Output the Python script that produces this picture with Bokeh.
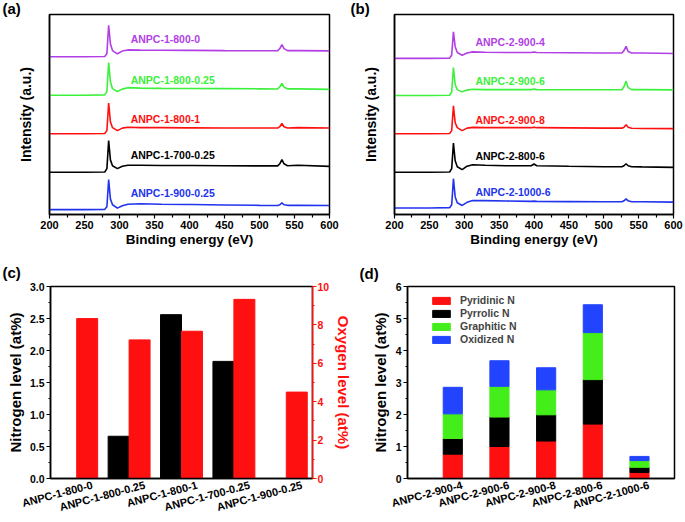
from bokeh.plotting import figure
from bokeh.models import Range1d, LinearAxis, FixedTicker, Legend, LegendItem
from bokeh.layouts import column, row
from bokeh.embed import file_html
from bokeh.resources import INLINE
from bokeh.core.properties import value

FONT = "Liberation Sans"

# ---------------- data ----------------
energy = [200, 250, 279, 282, 284.5, 287, 290, 297, 304, 312, 330, 360, 396, 400, 404,
          450, 500, 526, 529, 532, 535, 540, 555, 600]

a_names = ["ANPC-1-800-0", "ANPC-1-800-0.25", "ANPC-1-800-1", "ANPC-1-700-0.25", "ANPC-1-900-0.25"]
a_spec = [
    [161.7, 161.7, 162, 165, 194, 175, 168, 164.7, 167.5, 168.7, 168.5, 168.3, 168.2, 168.2, 168.2,
     168, 167.9, 167.8, 170, 174, 170, 168, 168, 167.7],
    [122.3, 122.3, 122.6, 126, 155.7, 136, 129, 126, 128.5, 130, 129.5, 129.3, 129.2, 129.2, 129.2,
     129, 128.8, 128.7, 131, 134.3, 130.5, 128.8, 128.8, 128.3],
    [82.7, 82.7, 83, 86, 114.3, 95, 89, 86, 88.5, 89.5, 89, 89, 88.8, 88.8, 88.8,
     88.7, 88.6, 88.6, 90, 93.3, 90, 88.6, 89, 88.7],
    [43.3, 43.3, 43.6, 47, 75.7, 56, 50, 47, 49.5, 50.5, 50.5, 50.3, 50.2, 50.2, 50.2,
     50, 49.8, 49.8, 52, 56.3, 52, 50, 50.5, 49.3],
    [5, 5, 5.3, 8, 35.7, 16, 10, 6.5, 9, 10.5, 11, 10.5, 10.2, 10.2, 10.2,
     9.8, 9.4, 9.3, 10, 12, 10, 9.4, 9.5, 9.3],
]
a_label_y = [180, 138.3, 98.3, 60.7, 22.3]

b_names = ["ANPC-2-900-4", "ANPC-2-900-6", "ANPC-2-900-8", "ANPC-2-800-6", "ANPC-2-1000-6"]
b_spec = [
    [160, 160, 160.3, 163.5, 187.3, 172, 166, 163.3, 165.5, 166.7, 166.3, 166, 166, 166.5, 166,
     165.8, 165.6, 165.6, 168, 172.3, 167, 165.5, 165.5, 165],
    [122, 122, 122.3, 125.5, 150.7, 133, 128, 125.7, 127.5, 128.3, 128, 128, 128, 128.6, 128,
     127.9, 127.8, 127.8, 131, 136.7, 130, 128, 128, 127.7],
    [82.7, 82.7, 83, 86, 111.3, 94, 89, 86, 88.5, 89.3, 89, 89, 89, 89.5, 89,
     88.8, 88.5, 88.5, 89.5, 92, 89.5, 88.4, 88.2, 88],
    [43.3, 43.3, 43.6, 47, 73.3, 55, 49, 46, 49.5, 51, 50.5, 50, 50, 51.7, 50,
     49.5, 49, 49, 50, 52, 50, 49, 48.8, 48.3],
    [6.7, 6.7, 7, 10, 36.7, 18, 12, 9.3, 12.5, 14.3, 14.2, 13.8, 13.5, 13.7, 13.5,
     13.2, 13, 13, 14, 16, 14, 13, 13, 12.7],
]
b_label_y = [176.7, 137.3, 97.3, 60, 22.7]
label_x = 316

spec_colors = ["#B23FE6", "#3CF03C", "#FF1010", "#000000", "#2233EE"]

c_cats = ["ANPC-1-800-0", "ANPC-1-800-0.25", "ANPC-1-800-1", "ANPC-1-700-0.25", "ANPC-1-900-0.25"]
c_nitrogen = [0, 0.66, 2.56, 1.83, 0]
c_oxygen = [8.33, 7.22, 7.67, 9.33, 4.5]

d_cats = ["ANPC-2-900-4", "ANPC-2-900-6", "ANPC-2-900-8", "ANPC-2-800-6", "ANPC-2-1000-6"]
d_species = ["Pyridinic N", "Pyrrolic N", "Graphitic N", "Oxidized N"]
d_pyridinic = [0.76, 1.00, 1.17, 1.70, 0.19]
d_pyrrolic = [0.49, 0.92, 0.82, 1.39, 0.16]
d_graphitic = [0.77, 0.96, 0.78, 1.47, 0.21]
d_oxidized = [0.83, 0.80, 0.69, 0.87, 0.13]
d_colors = ["#FF1010", "#000000", "#44EE1A", "#2244FF"]

ANGLE = 0.26


def style_common(p):
    p.outline_line_color = "black"
    p.outline_line_width = 1.5
    p.xgrid.visible = False
    p.ygrid.visible = False
    p.background_fill_color = "white"
    p.border_fill_color = "white"
    for ax in p.axis:
        ax.axis_line_width = 1.5
        ax.major_tick_line_width = 1.2
        ax.minor_tick_line_width = 1.2
        ax.major_label_text_font = FONT
        ax.major_label_text_font_style = "bold"
        ax.axis_label_text_font = FONT
        ax.axis_label_text_font_style = "bold"
        ax.axis_label_text_color = "black"
        ax.major_label_text_color = "black"


def panel_letter(p, txt, offset, standoff):
    p.title.text = txt
    p.title.align = "left"
    p.title.offset = offset
    p.title.standoff = standoff
    p.title.vertical_align = "bottom"
    p.title.text_font = FONT
    p.title.text_font_style = "bold"
    p.title.text_font_size = "15px"
    p.title.text_color = "black"


def spectrum_panel(names, spec, label_y, letter, width, bl, br, offset):
    p = figure(width=width, height=250, output_backend="svg", toolbar_location=None,
               x_range=Range1d(200, 600), y_range=Range1d(0, 205),
               min_border_left=bl, min_border_right=br, min_border_top=12, min_border_bottom=36)
    for ys, col in zip(spec, spec_colors):
        p.line(energy, ys, line_color=col, line_width=1.6)
    p.text(x=[label_x] * len(names), y=label_y, text=names, text_color=spec_colors,
           text_font=value(FONT), text_font_style="bold", text_font_size="10.5px",
           text_baseline="middle", text_align="left")
    style_common(p)
    p.xaxis.ticker = FixedTicker(ticks=list(range(200, 601, 50)),
                                 minor_ticks=list(range(225, 600, 50)))
    p.xaxis.major_tick_out = 4
    p.xaxis.major_tick_in = 0
    p.xaxis.minor_tick_out = 3
    p.xaxis.minor_tick_in = 0
    p.xaxis.major_label_text_font_size = "11px"
    p.xaxis.major_label_standoff = 2
    p.xaxis.axis_label = "Binding energy (eV)"
    p.xaxis.axis_label_text_font_size = "13.5px"
    p.xaxis.axis_label_standoff = 0
    p.yaxis.ticker = FixedTicker(ticks=[])
    p.yaxis.axis_label = "Intensity (a.u.)"
    p.yaxis.axis_label_text_font_size = "14px"
    p.yaxis.axis_label_standoff = 16
    panel_letter(p, letter, offset, -5)
    return p


pa = spectrum_panel(a_names, a_spec, a_label_y, "(a)", 340, 49, 11, -47)
pb = spectrum_panel(b_names, b_spec, b_label_y, "(b)", 345, 54, 12, -44)

# ---------------- panel (c) ----------------
xc = list(range(1, len(c_cats) + 1))
pc = figure(width=356, height=272, output_backend="svg", toolbar_location=None,
            x_range=Range1d(0.5, 5.5), y_range=Range1d(0, 3.0),
            min_border_left=50, min_border_right=44, min_border_top=33, min_border_bottom=44)
pc.extra_y_ranges = {"oxy": Range1d(0, 10)}
pc.vbar(x=[v - 0.2 for v in xc], top=c_nitrogen, width=0.4, fill_color="black", line_color="black")
pc.vbar(x=[v + 0.2 for v in xc], top=c_oxygen, width=0.4, fill_color="#FF1010",
        line_color="#FF1010", y_range_name="oxy")
rax = LinearAxis(y_range_name="oxy")
pc.add_layout(rax, "right")
style_common(pc)
# rotated category labels sit slightly right of the category centre
c_ticks = [v + 0.3 for v in xc]
pc.xaxis.ticker = FixedTicker(ticks=c_ticks)
pc.xaxis.major_label_overrides = {t: n for t, n in zip(c_ticks, c_cats)}
pc.xaxis.major_label_orientation = ANGLE
pc.xaxis.major_tick_out = 0
pc.xaxis.major_tick_in = 0
pc.xaxis.minor_tick_out = 0
pc.xaxis.major_label_text_font_size = "11px"
pc.xaxis.major_label_standoff = 6
pc.yaxis[0].ticker = FixedTicker(ticks=[0, 0.5, 1.0, 1.5, 2.0, 2.5, 3.0],
                                 minor_ticks=[0.25, 0.75, 1.25, 1.75, 2.25, 2.75])
pc.yaxis[0].major_label_overrides = {0: "0.0", 1: "1.0", 2: "2.0", 3: "3.0"}
pc.yaxis[0].axis_label = "Nitrogen level (at%)"
for ax in pc.yaxis:
    ax.major_tick_out = 4
    ax.major_tick_in = 0
    ax.minor_tick_out = 2
    ax.minor_tick_in = 0
    ax.major_label_text_font_size = "10.5px"
    ax.major_label_standoff = 2
    ax.axis_label_text_font_size = "15px"
    ax.axis_label_standoff = 3
rax.ticker = FixedTicker(ticks=[0, 2, 4, 6, 8, 10], minor_ticks=[1, 3, 5, 7, 9])
rax.axis_label = "Oxygen level (at%)"
rax.major_label_standoff = 1
red = "#FF1010"
rax.axis_line_color = red
rax.major_tick_line_color = red
rax.minor_tick_line_color = red
rax.major_label_text_color = red
rax.axis_label_text_color = red
panel_letter(pc, "(c)", -48, 11)

# ---------------- panel (d) ----------------
xd = list(range(1, len(d_cats) + 1))
pd_ = figure(width=329, height=272, output_backend="svg", toolbar_location=None,
             x_range=Range1d(0.03, 5.75), y_range=Range1d(0, 6),
             min_border_left=51, min_border_right=11, min_border_top=36, min_border_bottom=44)
layers = [d_pyridinic, d_pyrrolic, d_graphitic, d_oxidized]
bottom = [0.0] * len(xd)
items = []
for vals, col, name in zip(layers, d_colors, d_species):
    top = [b + v for b, v in zip(bottom, vals)]
    r = pd_.vbar(x=xd, bottom=bottom, top=top, width=0.41, fill_color=col, line_color=col)
    items.append(LegendItem(label=name, renderers=[r]))
    bottom = top
style_common(pd_)
d_ticks = [v + 0.2 for v in xd]
pd_.xaxis.ticker = FixedTicker(ticks=d_ticks)
pd_.xaxis.major_label_overrides = {t: n for t, n in zip(d_ticks, d_cats)}
pd_.xaxis.major_label_orientation = ANGLE
pd_.xaxis.major_tick_out = 0
pd_.xaxis.major_tick_in = 0
pd_.xaxis.minor_tick_out = 0
pd_.xaxis.major_label_text_font_size = "11px"
pd_.xaxis.major_label_standoff = 6
pd_.yaxis.ticker = FixedTicker(ticks=[0, 1, 2, 3, 4, 5, 6],
                               minor_ticks=[0.5, 1.5, 2.5, 3.5, 4.5, 5.5])
pd_.yaxis.major_tick_out = 4
pd_.yaxis.major_tick_in = 0
pd_.yaxis.minor_tick_out = 2
pd_.yaxis.minor_tick_in = 0
pd_.yaxis.major_label_text_font_size = "10.5px"
pd_.yaxis.major_label_standoff = 2
pd_.yaxis.axis_label = "Nitrogen level (at%)"
pd_.yaxis.axis_label_text_font_size = "15px"
pd_.yaxis.axis_label_standoff = 4
legend = Legend(items=items, location=(23, 133), orientation="vertical",
                label_text_font=FONT, label_text_font_style="bold",
                label_text_font_size="10.5px", glyph_width=22, glyph_height=9,
                label_height=10, label_standoff=8, spacing=1, padding=0, margin=0,
                border_line_color=None, background_fill_alpha=0)
pd_.add_layout(legend)
panel_letter(pd_, "(d)", -48, 10)

layout = column(row(pa, pb), row(pc, pd_))
open("out.html", "w").write(file_html(layout, INLINE))
